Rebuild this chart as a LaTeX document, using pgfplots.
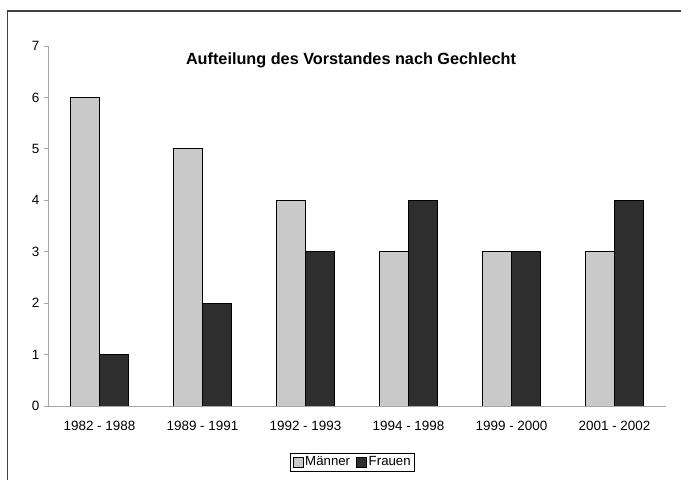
\documentclass[border=0pt]{standalone}
\usepackage{fontspec}
\setmainfont{Liberation Sans}
\usepackage{pgfplots}
\pgfplotsset{compat=1.18}
\definecolor{light}{HTML}{C9C9C9}
\definecolor{dark}{HTML}{2E2E2E}
\begin{document}
\begin{tikzpicture}[x=1bp,y=1bp]
\useasboundingbox (0,0) rectangle (681,480);
\draw[line width=1.2bp,black!75] (7.5,0) -- (7.5,469) -- (681,469);
\node[font=\bfseries\fontsize{16.3}{18}\selectfont] at (351,420) {Aufteilung des Vorstandes nach Gechlecht};
\begin{axis}[
  at={(48bp,74bp)}, anchor=south west,
  scale only axis, width=618bp, height=360bp,
  xmin=-0.5, xmax=5.5, ymin=0, ymax=7,
  axis x line*=bottom, axis y line*=left,
  axis line style={gray!70, line width=0.8bp},
  every tick/.style={gray!70, line width=0.8bp},
  ytick={0,...,7},
  tick align=outside, tick pos=left,
  major tick length=4bp,
  xtick={0,...,5},
  x tick style={draw=none},
  minor xtick={-0.5,0.5,1.5,2.5,3.5,4.5,5.5},
  minor tick length=5bp,
  xticklabels={1982 - 1988,1989 - 1991,1992 - 1993,1994 - 1998,1999 - 2000,2001 - 2002},
  ticklabel style={font=\fontsize{13.5}{15}\selectfont},
  yticklabel style={xshift=-1bp},
  xticklabel style={yshift=-8bp},
  /pgf/number format/assume math mode=true,
  ybar=0pt, bar width=29bp,
  legend columns=2,
  legend style={at={(0.493,-0.156)}, anchor=center, draw=black, line width=0.6bp,
    font=\fontsize{13.3}{15}\selectfont, inner sep=2bp,
    /tikz/every even column/.append style={column sep=4bp}},
  legend image code/.code={\draw[#1,line width=0.6bp,draw=black] (0bp,-5bp) rectangle (10bp,5bp);},
]
\addplot[fill=light, draw=black, line width=0.9bp] coordinates {(0,6) (1,5) (2,4) (3,3) (4,3) (5,3)};
\addplot[fill=dark, draw=black, line width=0.9bp] coordinates {(0,1) (1,2) (2,3) (3,4) (4,3) (5,4)};
\legend{M\"anner,Frauen}
\end{axis}
\end{tikzpicture}
\end{document}
